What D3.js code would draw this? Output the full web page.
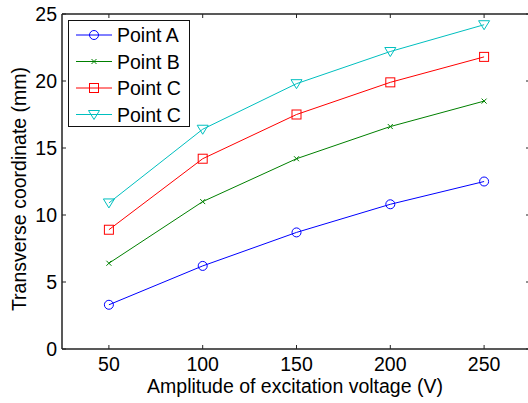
<!DOCTYPE html>
<html><head><meta charset="utf-8">
<script src="https://cdn.jsdelivr.net/npm/d3@7"></script>
<style>body{margin:0;background:#fff}text{font-family:"Liberation Sans",Arial,sans-serif}</style>
</head><body>
<svg id="c" width="528" height="403"></svg>
<script>
const voltages = [50, 100, 150, 200, 250];
const pointA = [3.3, 6.2, 8.7, 10.8, 12.5];
const pointB = [6.4, 11.0, 14.2, 16.6, 18.5];
const pointC = [8.9, 14.2, 17.5, 19.9, 21.8];
const pointC2 = [10.9, 16.4, 19.8, 22.2, 24.2];
const xTicks = [50, 100, 150, 200, 250];
const yTicks = [0, 5, 10, 15, 20, 25];
const seriesNames = ["Point A", "Point B", "Point C", "Point C"];
const seriesColors = ["#0000ff", "#008000", "#ff0000", "#00bfbf"];
const seriesMarkers = ["circle", "x", "square", "tridown"];
const seriesData = [pointA, pointB, pointC, pointC2];

const FS = 19.5;
const svg = d3.select("#c");
const L = 62, R = 531, T = 14, B = 349;
const x = d3.scaleLinear().domain([25, 275]).range([L, R]);
const y = d3.scaleLinear().domain([0, 25]).range([B, T]);

function marker(g, type, cx, cy, color) {
  if (type === "circle") g.append("circle").attr("cx", cx).attr("cy", cy).attr("r", 4.5).attr("fill", "none").attr("stroke", color).attr("stroke-width", 1);
  else if (type === "square") g.append("rect").attr("x", cx - 4.5).attr("y", cy - 4.5).attr("width", 9).attr("height", 9).attr("fill", "none").attr("stroke", color).attr("stroke-width", 1);
  else if (type === "x") { const s = 2.5; g.append("path").attr("d", `M${cx-s},${cy-s}L${cx+s},${cy+s}M${cx-s},${cy+s}L${cx+s},${cy-s}`).attr("stroke", color).attr("stroke-width", 1); }
  else if (type === "tridown") g.append("path").attr("d", `M${cx-5.5},${cy-4}L${cx+5.5},${cy-4}L${cx},${cy+5}Z`).attr("fill", "none").attr("stroke", color).attr("stroke-width", 1);
}

// series
seriesData.forEach((vals, i) => {
  const pts = voltages.map((v, j) => [x(v), y(vals[j])]);
  svg.append("path").attr("d", d3.line()(pts)).attr("fill", "none").attr("stroke", seriesColors[i]).attr("stroke-width", 1);
  const g = svg.append("g");
  pts.forEach(p => marker(g, seriesMarkers[i], p[0], p[1], seriesColors[i]));
});

// axes box
const ax = svg.append("g").attr("stroke", "#222").attr("stroke-width", 1.5);
ax.append("line").attr("x1", L).attr("x2", R).attr("y1", B).attr("y2", B);
ax.append("line").attr("x1", L).attr("x2", R).attr("y1", T).attr("y2", T);
ax.append("line").attr("x1", L).attr("x2", L).attr("y1", T).attr("y2", B);
ax.append("line").attr("x1", R).attr("x2", R).attr("y1", T).attr("y2", B);

const tk = svg.append("g").attr("stroke", "#222").attr("stroke-width", 1);
xTicks.forEach(t => {
  tk.append("line").attr("x1", x(t)).attr("x2", x(t)).attr("y1", B).attr("y2", B - 4);
  tk.append("line").attr("x1", x(t)).attr("x2", x(t)).attr("y1", T).attr("y2", T + 4);
});
yTicks.forEach(t => {
  tk.append("line").attr("x1", L).attr("x2", L + 4).attr("y1", y(t)).attr("y2", y(t));
  tk.append("line").attr("x1", R).attr("x2", R - 5).attr("y1", y(t)).attr("y2", y(t));
});

svg.append("g").selectAll("text").data(xTicks).join("text")
  .attr("x", d => x(d)).attr("y", 371).attr("text-anchor", "middle")
  .attr("font-size", FS).text(d => d);
svg.append("g").selectAll("text").data(yTicks).join("text")
  .attr("x", 57).attr("y", d => y(d) + 7).attr("text-anchor", "end")
  .attr("font-size", FS).text(d => d);

svg.append("text").attr("x", 295).attr("y", 393).attr("text-anchor", "middle").attr("font-size", FS)
  .text("Amplitude of excitation voltage (V)");
svg.append("text").attr("transform", "translate(26,189) rotate(-90)").attr("text-anchor", "middle").attr("font-size", FS)
  .text("Transverse coordinate (mm)");

// legend
const lg = svg.append("g");
lg.append("rect").attr("x", 68.5).attr("y", 20.5).attr("width", 121).attr("height", 106).attr("fill", "#fff").attr("stroke", "#111").attr("stroke-width", 1);
seriesNames.forEach((n, i) => {
  const ly = 35 + i * 26.5;
  lg.append("line").attr("x1", 76).attr("x2", 112).attr("y1", ly).attr("y2", ly).attr("stroke", seriesColors[i]).attr("stroke-width", 1);
  marker(lg, seriesMarkers[i], 94, ly, seriesColors[i]);
  lg.append("text").attr("x", 117).attr("y", ly + 7).attr("font-size", FS).text(n);
});
</script>
</body></html>
